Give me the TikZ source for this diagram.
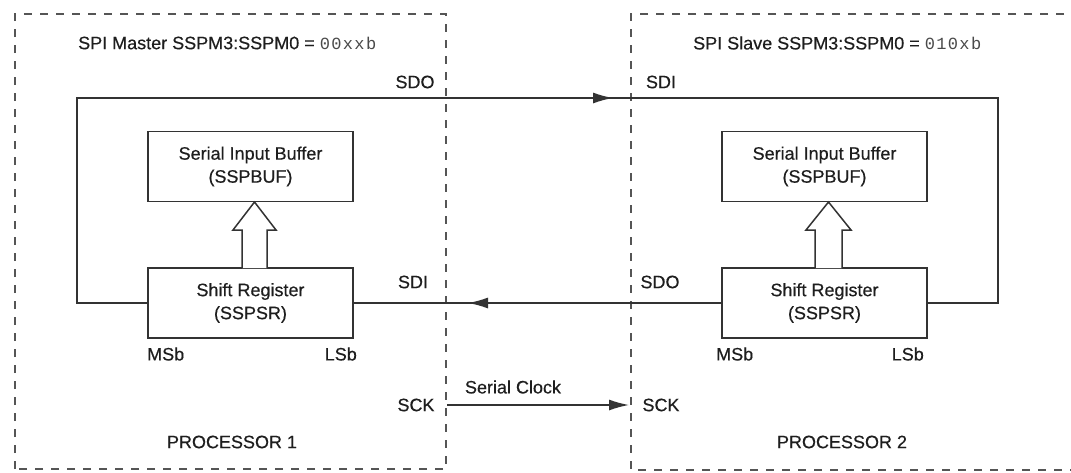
\documentclass[tikz,border=0pt]{standalone}
\usepackage{fontspec}
\setmainfont[FakeBold=0.4]{Liberation Sans}
\newfontfamily\monof[LetterSpace=8]{Liberation Mono}
\usetikzlibrary{arrows.meta}
\definecolor{ln}{HTML}{333333}
\definecolor{tx}{HTML}{1E1E1E}
\definecolor{dl}{HTML}{555555}
\definecolor{mono}{HTML}{4A4A4A}
\begin{document}
\begin{tikzpicture}[x=1pt,y=-1pt,
  every node/.style={text=tx,font=\fontsize{18}{21}\selectfont},
  regbox/.style={draw=ln,line width=1.5pt,minimum width=205pt,minimum height=70pt,inner sep=0pt,align=center,font=\fontsize{18}{23}\selectfont},
  wire/.style={draw=ln,line width=1.5pt},
  arr/.style={wire,-{Latex[length=20pt,width=11pt]}},
  bound/.style={draw=dl,line width=1.8pt,dash pattern=on 8pt off 8pt},
  hollow/.style={draw=ln,line width=1.5pt,fill=white,line join=miter},
  lbl/.style={inner sep=0pt}]
\fill[white] (0,0) rectangle (1071,472);
\useasboundingbox (0,0) rectangle (1071,472);

% processor boundaries
\draw[bound] (15,469) -- (15,14) -- (446,14) -- (446,469) -- cycle;
\draw[bound] (1080,14) -- (631,14) -- (631,470) -- (1080,470);

% titles
\node[lbl,anchor=west] (tL) at (78,43) {SPI Master SSPM3:SSPM0 = {\monof\fontsize{17}{18}\selectfont\color{mono}00xxb}};
\node[lbl,anchor=west] (tR) at (693,43) {SPI Slave SSPM3:SSPM0 = {\monof\fontsize{17}{18}\selectfont\color{mono}010xb}};

% boxes
\node[regbox] (bufL) at (250.5,166.5) {Serial Input Buffer\\(SSPBUF)};
\node[regbox] (bufR) at (824.5,166.5) {Serial Input Buffer\\(SSPBUF)};
\node[regbox] (srL) at (250.5,303) {Shift Register\\(SSPSR)};
\node[regbox] (srR) at (824.5,303) {Shift Register\\(SSPSR)};

% hollow arrows
\draw[hollow] (242,268) -- (242,230) -- (233,230) -- (254.5,202) -- (276,230) -- (267,230) -- (267,268);
\draw[hollow] (815,268) -- (815,230) -- (806,230) -- (828.5,202) -- (851,230) -- (842,230) -- (842,268);

% SDO -> SDI loop
\coordinate (cL) at (77,98);
\coordinate (cR) at (998,98);
\coordinate (tipA) at (613,98);
\draw[wire] (srL.west) -| (cL) -- (cR) |- (srR.east);
\draw[arr] (cL) -- (tipA);

% SDO (slave) -> SDI (master)
\coordinate (tipB) at (468,303);
\draw[wire] (srR.west) -- (srL.east);
\draw[arr] (srR.west) -- (tipB);

% serial clock
\coordinate (sckA) at (447,405);
\coordinate (sckB) at (629,405);
\draw[arr] (sckA) -- (sckB);

% labels
\node[lbl] (sdoL) at (415,82) {SDO};
\node[lbl] (sdiR) at (661,82) {SDI};
\node[lbl] (sdiL) at (413,282) {SDI};
\node[lbl] (sdoR) at (660,282) {SDO};
\node[lbl,anchor=west] (msbL) at (147,354) {MSb};
\node[lbl,anchor=east] (lsbL) at (357,354) {LSb};
\node[lbl,anchor=west] (msbR) at (716,354) {MSb};
\node[lbl,anchor=east] (lsbR) at (924,354) {LSb};
\node[lbl] (clk) at (513,387) {Serial Clock};
\node[lbl] (sckL) at (416,405) {SCK};
\node[lbl] (sckR) at (661,405) {SCK};
\node[lbl] (p1) at (232,442) {PROCESSOR 1};
\node[lbl] (p2) at (842,442) {PROCESSOR 2};
\end{tikzpicture}
\end{document}
